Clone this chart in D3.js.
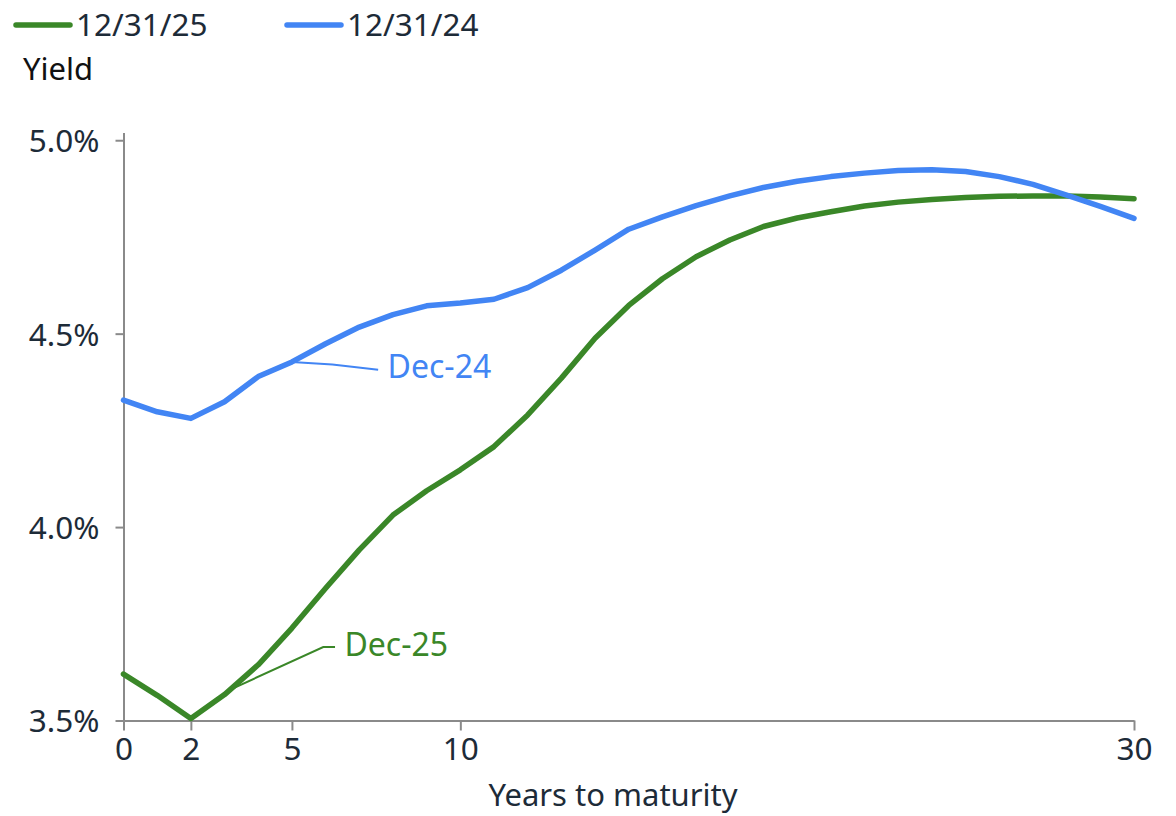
<!doctype html>
<html>
<head>
    <script src="https://d3js.org/d3.v7.min.js"></script>
    <style>
        body { margin: 0; background: #fff; }
        text { font-family: "Noto Sans", sans-serif; }
        .axis path, .axis line { stroke: #8a8a8a; stroke-width: 2; }
        .axis text { fill: #1d2b38; font-size: 31.5px; }
    </style>
</head>
<body>

    <svg width="1176" height="816"></svg>

    <script>
        // years to maturity 0..30
        var years = d3.range(0, 31);

        var yield25 = [3.62, 3.565, 3.505, 3.567, 3.644, 3.739, 3.842, 3.941, 4.031, 4.094,
                       4.148, 4.208, 4.29, 4.385, 4.488, 4.573, 4.642, 4.699, 4.742, 4.777,
                       4.799, 4.815, 4.83, 4.84, 4.847, 4.852, 4.855, 4.856, 4.856, 4.853, 4.849];

        var yield24 = [4.328, 4.298, 4.281, 4.324, 4.389, 4.427, 4.474, 4.517, 4.549, 4.572,
                       4.579, 4.589, 4.619, 4.664, 4.716, 4.77, 4.802, 4.831, 4.856, 4.878,
                       4.894, 4.906, 4.915, 4.922, 4.924, 4.919, 4.906, 4.886, 4.858, 4.829, 4.798];

        var xTicks = [0, 2, 5, 10, 30];
        var yTicks = [3.5, 4.0, 4.5, 5.0];

        var series = [
            {name: "12/31/25", label: "Dec-25", values: yield25, color: "#3a8728"},
            {name: "12/31/24", label: "Dec-24", values: yield24, color: "#4285f4"}
        ];

        var svg = d3.select("svg");

        var x = d3.scaleLinear().domain([0, 30]).range([123.5, 1134]);
        var y = d3.scaleLinear().domain([3.5, 5.02]).range([720.5, 132.5]);

        svg.append("g")
            .attr("class", "axis")
            .attr("transform", "translate(" + x(0) + ",0)")
            .call(d3.axisLeft(y).tickValues(yTicks).tickSize(8).tickSizeOuter(0)
                .tickPadding(16).tickFormat(d => d.toFixed(1) + "%"))
            .selectAll("text").attr("dy", "0.36em");

        svg.append("g")
            .attr("class", "axis")
            .attr("transform", "translate(0," + y(3.5) + ")")
            .call(d3.axisBottom(x).tickValues(xTicks).tickSize(10).tickSizeOuter(0).tickPadding(6))
            .selectAll("text").attr("dy", "0.76em");

        // axis titles
        svg.append("text")
            .attr("x", 23).attr("y", 80)
            .attr("font-size", "31px").attr("fill", "#111")
            .text("Yield");

        svg.append("text")
            .attr("x", 613).attr("y", 806)
            .attr("text-anchor", "middle")
            .attr("font-size", "31px").attr("fill", "#1d2b38")
            .text("Years to maturity");

        var line = d3.line()
            .x((d, i) => x(years[i]))
            .y(d => y(d));

        svg.selectAll(".series")
            .data(series)
            .enter()
            .append("path")
            .attr("class", "series")
            .attr("fill", "none")
            .attr("stroke", d => d.color)
            .attr("stroke-width", 5.5)
            .attr("stroke-linejoin", "round")
            .attr("stroke-linecap", "round")
            .attr("d", d => line(d.values));

        // legend
        var legend = svg.selectAll(".legend")
            .data(series)
            .enter()
            .append("g")
            .attr("class", "legend")
            .attr("transform", (d, i) => "translate(" + (16 + i * 271) + ",25)");

        legend.append("line")
            .attr("x1", 0).attr("x2", 54)
            .attr("stroke", d => d.color)
            .attr("stroke-width", 5.5)
            .attr("stroke-linecap", "round");

        legend.append("text")
            .attr("x", 60).attr("y", 11)
            .attr("font-size", "31.5px").attr("fill", "#1d2b38")
            .text(d => d.name);

        // annotations (leader points in data units)
        var notes = [
            {s: series[1], pts: [[5, yield24[5]], [6.2, 4.42], [7.56, 4.407]], tx: 7.84, ty: 4.386},
            {s: series[0], pts: [[3.17, 3.58], [5.93, 3.69], [6.28, 3.69]], tx: 6.56, ty: 3.668}
        ];

        notes.forEach(function (n) {
            svg.append("path")
                .attr("fill", "none")
                .attr("stroke", n.s.color)
                .attr("stroke-width", 2)
                .attr("d", d3.line().x(p => x(p[0])).y(p => y(p[1]))(n.pts));
            svg.append("text")
                .attr("x", x(n.tx)).attr("y", y(n.ty))
                .attr("font-size", "32px")
                .attr("fill", n.s.color)
                .text(n.s.label);
        });
    </script>
</body>
</html>
